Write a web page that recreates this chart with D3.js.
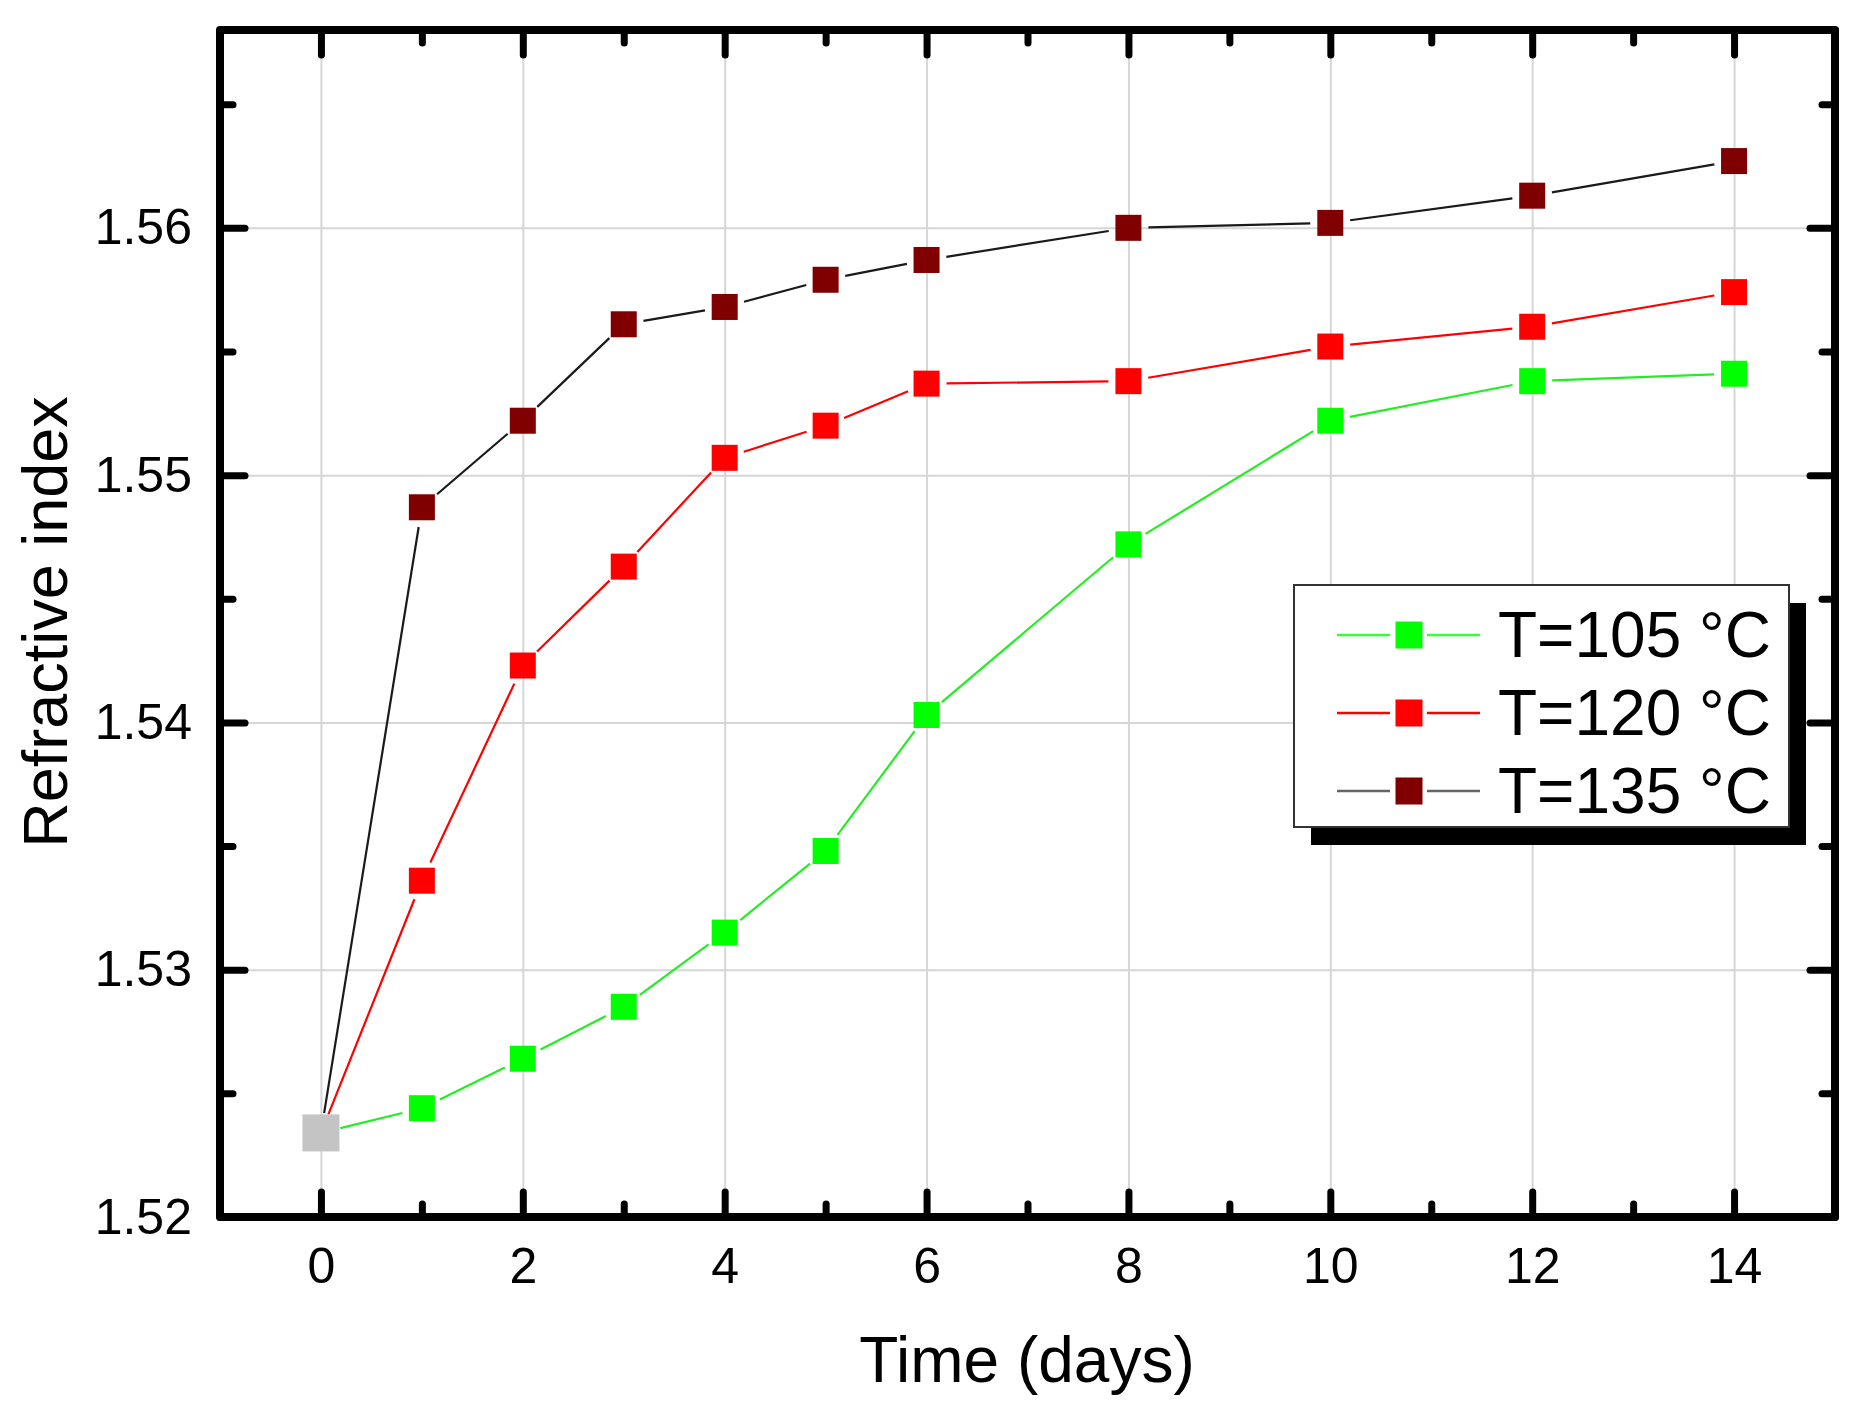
<!DOCTYPE html>
<html>
<head>
<meta charset="utf-8">
<script src="https://cdn.jsdelivr.net/npm/d3@7"></script>
<style>
  html, body { margin: 0; padding: 0; background: #fff; }
  svg { display: block; font-family: "Liberation Sans", Arial, sans-serif; }
</style>
</head>
<body>
<svg id="chart" width="1865" height="1418"></svg>
<script>
// ---- data ----
const initialDay = 0;
const initialValue = 1.5234;
const days = [1, 2, 3, 4, 5, 6, 8, 10, 12, 14];
const seriesNames = ["T=105 °C", "T=120 °C", "T=135 °C"];
const values105 = [1.5244, 1.5264, 1.5285, 1.5315, 1.5348, 1.5403, 1.5472, 1.5522, 1.5538, 1.5541];
const values120 = [1.5336, 1.5423, 1.5463, 1.5507, 1.5520, 1.5537, 1.5538, 1.5552, 1.5560, 1.5574];
const values135 = [1.5487, 1.5522, 1.5561, 1.5568, 1.5579, 1.5587, 1.5600, 1.5602, 1.5613, 1.5627];
const xTickValues = [0, 2, 4, 6, 8, 10, 12, 14];
const xMinorTicks = [-1, 1, 3, 5, 7, 9, 11, 13, 15];
const yTickValues = [1.52, 1.53, 1.54, 1.55, 1.56];
const yMinorTicks = [1.525, 1.535, 1.545, 1.555, 1.565];
const xTitle = "Time (days)";
const yTitle = "Refractive index";

const markerColors = ["#00ff00", "#ff0000", "#800000"];
const lineColors = ["#22ee22", "#ff0000", "#1a1a1a"];
const legendLineColors = ["#33ff33", "#ff0000", "#666666"];
const initialColor = "#c4c4c4";

// ---- layout ----
const W = 1865, H = 1418;
const margin = { left: 220, top: 30, right: 30, bottom: 201 };
const iw = W - margin.left - margin.right;
const ih = H - margin.top - margin.bottom;

const svg = d3.select("#chart");
const g = svg.append("g").attr("transform", `translate(${margin.left},${margin.top})`);

const x = d3.scaleLinear().domain([-1, 15]).range([0, iw]);
const y = d3.scaleLinear().domain([1.52, 1.568]).range([ih, 0]);

// grid
g.append("g").attr("class", "gridx")
  .call(d3.axisBottom(x).tickValues(xTickValues).tickSize(ih).tickFormat(""))
  .call(s => s.select(".domain").remove())
  .selectAll("line").attr("stroke", "#d6d6d6").attr("stroke-width", 2);
g.append("g").attr("class", "gridy")
  .call(d3.axisLeft(y).tickValues(yTickValues.slice(1)).tickSize(-iw).tickFormat(""))
  .call(s => s.select(".domain").remove())
  .selectAll("line").attr("stroke", "#d6d6d6").attr("stroke-width", 2);

// data lines (with gaps near markers)
const gap = 20;
const allSeries = [values105, values120, values135].map((vals, i) => {
  const pts = [{ d: initialDay, v: initialValue }].concat(days.map((d, j) => ({ d, v: vals[j] })));
  return { name: seriesNames[i], pts, i };
});

allSeries.forEach(s => {
  const segs = d3.pairs(s.pts).map(([a, b]) => {
    const x1 = x(a.d), y1 = y(a.v), x2 = x(b.d), y2 = y(b.v);
    const len = Math.hypot(x2 - x1, y2 - y1);
    const ux = (x2 - x1) / len, uy = (y2 - y1) / len;
    return [x1 + ux * gap, y1 + uy * gap, x2 - ux * gap, y2 - uy * gap];
  });
  g.append("g").selectAll("line").data(segs).join("line")
    .attr("x1", d => d[0]).attr("y1", d => d[1])
    .attr("x2", d => d[2]).attr("y2", d => d[3])
    .attr("stroke", lineColors[s.i]).attr("stroke-width", 2.2);
});

const ms = 26;
allSeries.forEach(s => {
  g.append("g").selectAll("rect").data(s.pts.slice(1)).join("rect")
    .attr("x", d => x(d.d) - ms / 2).attr("y", d => y(d.v) - ms / 2)
    .attr("width", ms).attr("height", ms)
    .attr("fill", markerColors[s.i]);
});
const ms0 = 37;
g.append("rect")
  .attr("x", x(initialDay) - ms0 / 2).attr("y", y(initialValue) - ms0 / 2)
  .attr("width", ms0).attr("height", ms0).attr("fill", initialColor);

// axes ticks (inward) on all 4 sides
function styleTicks(sel, w) {
  sel.select(".domain").remove();
  sel.selectAll("line").attr("stroke", "#000").attr("stroke-width", w).attr("stroke-linecap", "round");
}
const major = 25, minor = 13;
// bottom
g.append("g").attr("transform", `translate(0,${ih})`)
  .call(d3.axisBottom(x).tickValues(xMinorTicks).tickSize(-minor).tickFormat(""))
  .call(s => styleTicks(s, 7));
const xb = g.append("g").attr("transform", `translate(0,${ih})`)
  .call(d3.axisBottom(x).tickValues(xTickValues).tickSize(-major).tickPadding(30).tickFormat(d3.format("d")))
  .call(s => styleTicks(s, 7));
xb.selectAll("text").attr("font-size", 50).attr("fill", "#000")
  .attr("font-family", "'Liberation Sans', Arial, sans-serif");
// top
g.append("g")
  .call(d3.axisTop(x).tickValues(xMinorTicks).tickSize(-minor).tickFormat(""))
  .call(s => styleTicks(s, 7));
g.append("g")
  .call(d3.axisTop(x).tickValues(xTickValues).tickSize(-major).tickFormat(""))
  .call(s => styleTicks(s, 7));
// left
g.append("g")
  .call(d3.axisLeft(y).tickValues(yMinorTicks).tickSize(-minor).tickFormat(""))
  .call(s => styleTicks(s, 7));
const yl = g.append("g")
  .call(d3.axisLeft(y).tickValues(yTickValues).tickSize(-major).tickPadding(28).tickFormat(d3.format(".2f")))
  .call(s => styleTicks(s, 7));
yl.selectAll("text").attr("font-size", 50).attr("fill", "#000")
  .attr("font-family", "'Liberation Sans', Arial, sans-serif");
// right
g.append("g").attr("transform", `translate(${iw},0)`)
  .call(d3.axisRight(y).tickValues(yMinorTicks).tickSize(-minor).tickFormat(""))
  .call(s => styleTicks(s, 7));
g.append("g").attr("transform", `translate(${iw},0)`)
  .call(d3.axisRight(y).tickValues(yTickValues).tickSize(-major).tickFormat(""))
  .call(s => styleTicks(s, 7));

// frame
g.append("rect").attr("x", 0).attr("y", 0).attr("width", iw).attr("height", ih)
  .attr("fill", "none").attr("stroke", "#000").attr("stroke-width", 8).attr("stroke-linejoin", "round");

// axis titles
svg.append("text").attr("x", 1027).attr("y", 1382).attr("text-anchor", "middle")
  .attr("font-size", 64).attr("fill", "#000").text(xTitle);
svg.append("text").attr("transform", "translate(67,622) rotate(-90)").attr("text-anchor", "middle")
  .attr("font-size", 63).attr("fill", "#000").text(yTitle);

// legend
const lg = svg.append("g").attr("transform", "translate(1294,585)");
const lw = 495, lh = 242;
lg.append("rect").attr("x", 17).attr("y", 18).attr("width", lw).attr("height", lh).attr("fill", "#000");
lg.append("rect").attr("x", 0).attr("y", 0).attr("width", lw).attr("height", lh)
  .attr("fill", "#fff").attr("stroke", "#333").attr("stroke-width", 2);
seriesNames.forEach((name, i) => {
  const cy = 50 + i * 78;
  lg.append("line").attr("x1", 43).attr("x2", 96).attr("y1", cy).attr("y2", cy)
    .attr("stroke", legendLineColors[i]).attr("stroke-width", 2.4);
  lg.append("line").attr("x1", 133).attr("x2", 186).attr("y1", cy).attr("y2", cy)
    .attr("stroke", legendLineColors[i]).attr("stroke-width", 2.4);
  lg.append("rect").attr("x", 115 - 13.5).attr("y", cy - 13.5).attr("width", 27).attr("height", 27)
    .attr("fill", markerColors[i]);
  lg.append("text").attr("x", 204).attr("y", cy + 22).attr("font-size", 64).attr("fill", "#000").text(name);
});
</script>
</body>
</html>
